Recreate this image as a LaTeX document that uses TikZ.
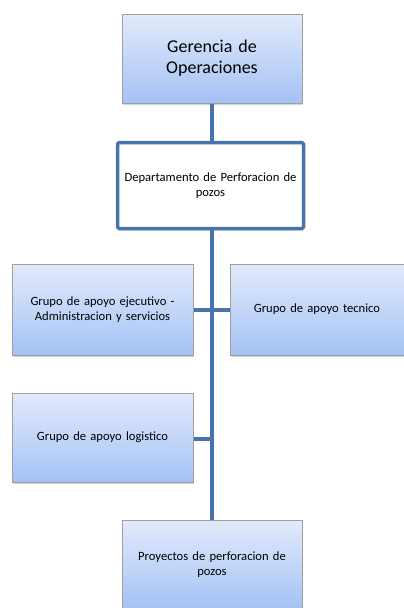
\documentclass[tikz,border=0pt]{standalone}
\usepackage{fontspec}
\setmainfont{Carlito}
\usetikzlibrary{positioning,shadows}

\definecolor{linkblue}{RGB}{70,116,171}
\definecolor{boxtop}{RGB}{226,234,251}
\definecolor{boxbot}{RGB}{164,194,245}

\tikzset{
  unit/.style={draw=gray!75,line width=1pt,top color=boxtop,bottom color=boxbot,
    align=center,inner sep=2pt,font=\fontsize{12.6}{15}\selectfont,
    drop shadow={opacity=0.35,shadow xshift=1pt,shadow yshift=-2pt}},
  dept/.style={draw=linkblue,line width=3.5pt,fill=white,rounded corners=1.5pt,
    align=center,inner sep=2pt,font=\fontsize{12.6}{15}\selectfont,
    drop shadow={opacity=0.3,shadow xshift=1pt,shadow yshift=-2pt}},
  link/.style={draw=linkblue,line width=4.5pt}
}

\begin{document}
\begin{tikzpicture}[x=1pt,y=-1pt]
\useasboundingbox (0,0) rectangle (404,608);

\node[unit,minimum width=180pt,minimum height=89pt,text width=170pt,font=\fontsize{18}{21}\selectfont] (ger) at (212,58.5) {Gerencia de\\Operaciones};
\node[dept,minimum width=184pt,minimum height=86pt,text width=182pt] (dep) at (210.5,185.5) {Departamento de Perforacion de\\pozos};
\node[unit,minimum width=181pt,minimum height=91pt,text width=175pt] (eje) at (102.5,309.5) {Grupo de apoyo ejecutivo -\\Administracion y servicios};
\node[unit,minimum width=174pt,minimum height=91pt,text width=168pt] (tec) at (317,309.5) {Grupo de apoyo tecnico};
\node[unit,minimum width=181pt,minimum height=89pt,text width=175pt] (log) at (102.5,437.5) {Grupo de apoyo logistico};
\node[unit,minimum width=180pt,minimum height=89pt,text width=175pt] (pro) at (212,564.5) {Proyectos de perforacion de\\pozos};

% trunk
\draw[link] (ger.south -| 212,0) -- (dep.north -| 212,0);
\draw[link] (dep.south -| 212,0) -- (pro.north -| 212,0);
% branches
\draw[link] (eje.east |- 0,310) -- (tec.west |- 0,310);
\draw[link] (log.east |- 0,439) -- (212,439);

\end{tikzpicture}
\end{document}
